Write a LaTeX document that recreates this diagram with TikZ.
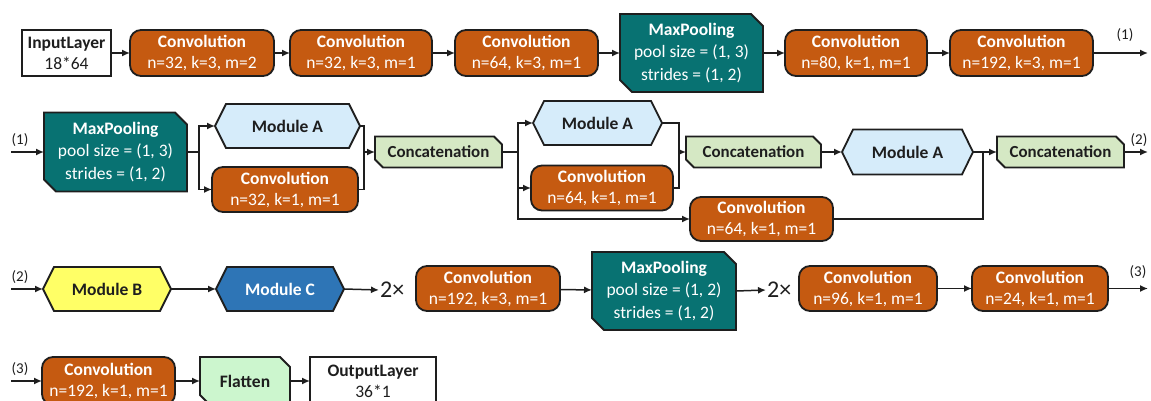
\documentclass[tikz,border=0pt]{standalone}
\usepackage{fontspec}
\setmainfont{Carlito}
\usetikzlibrary{arrows.meta,backgrounds}
\definecolor{convc}{RGB}{197,90,17}
\definecolor{poolc}{RGB}{8,114,114}
\definecolor{modA}{RGB}{214,236,250}
\definecolor{catc}{RGB}{213,232,196}
\definecolor{flatc}{RGB}{204,246,206}
\definecolor{modB}{RGB}{255,255,102}
\definecolor{modC}{RGB}{46,117,182}
\definecolor{ink}{RGB}{30,30,30}
\tikzset{
  base/.style={inner sep=0pt, outer sep=0pt, align=center, font=\fontsize{17.5}{21}\selectfont},
  sz/.style 2 args={minimum width=#1pt, minimum height=#2pt},
  conv/.style={base, draw=ink, line width=1.8pt, fill=convc, rounded corners=11pt, text=white},
  io/.style={base, draw=ink, line width=1.5pt, fill=white, text=ink},
  plain/.style={base, text=ink},
  light/.style={base, text=white},
  pool/.style={light, font=\fontsize{17.5}{22.5}\selectfont},
  cat/.style={plain, font=\fontsize{16.9}{20}\selectfont},
  shp/.style={draw=ink, line width=1.8pt, line join=miter},
  line/.style={line width=1.5pt, draw=ink},
  arr/.style={line, -{Latex[length=8pt,width=7pt]}},
  lab/.style={font=\fontsize{15}{15}\selectfont, text=ink, inner sep=0pt},
  times/.style={font=\fontsize{24}{24}\selectfont, text=ink, inner sep=1pt},
}
\newcommand\chamf[3]{%
  \begin{scope}[on background layer]
  \path[shp,#3] (#1.north west) -- ([xshift=-#2]#1.north east) -- ([yshift=-#2]#1.north east)
    -- (#1.south east) -- ([xshift=#2]#1.south west) -- ([yshift=#2]#1.south west) -- cycle;
  \end{scope}}
\newcommand\hexa[3]{%
  \begin{scope}[on background layer]
  \path[shp,#3] (#1.west) -- ([xshift=#2]#1.north west) -- ([xshift=-#2]#1.north east)
    -- (#1.east) -- ([xshift=-#2]#1.south east) -- ([xshift=#2]#1.south west) -- cycle;
  \end{scope}}
\begin{document}
\begin{tikzpicture}[x=1pt,y=-1pt]
\useasboundingbox (0,0) rectangle (1151,401);
\clip (0,0) rectangle (1151,401);

% ---------- Row 1
\node[io, sz={89}{46}] (in) at (66.5,53) {\textbf{InputLayer}\\18*64};
\node[conv, sz={144}{46}] (c1) at (202,53) {\textbf{Convolution}\\n=32, k=3, m=2};
\node[conv, sz={142}{46}] (c2) at (361,53) {\textbf{Convolution}\\n=32, k=3, m=1};
\node[conv, sz={143}{46}] (c3) at (526.5,53) {\textbf{Convolution}\\n=64, k=3, m=1};
\node[pool, sz={143}{78}] (mp1) at (691.5,53) {\textbf{MaxPooling}\\pool size = (1, 3)\\strides = (1, 2)};
\chamf{mp1}{12pt}{fill=poolc}
\node[conv, sz={142}{46}] (c4) at (856,53) {\textbf{Convolution}\\n=80, k=1, m=1};
\node[conv, sz={143}{46}] (c5) at (1021.5,53) {\textbf{Convolution}\\n=192, k=3, m=1};
\coordinate (o1) at (1148,53);
\node[lab] (l1r) at (1125,35) {(1)};
\draw[arr] (in) -- (c1);
\draw[arr] (c1) -- (c2);
\draw[arr] (c2) -- (c3);
\draw[arr] (c3) -- (mp1);
\draw[arr] (mp1) -- (c4);
\draw[arr] (c4) -- (c5);
\draw[arr] (c5) -- (o1);

% ---------- Row 2
\coordinate (i1) at (11,152);
\node[lab] (l1l) at (20,140) {(1)};
\node[pool, sz={143}{79}] (mp2) at (115.5,152) {\textbf{MaxPooling}\\pool size = (1, 3)\\strides = (1, 2)};
\chamf{mp2}{12pt}{fill=poolc}
\node[plain, sz={145}{44}] (mA1) at (287.5,126) {\textbf{Module A}};
\hexa{mA1}{11pt}{fill=modA}
\node[conv, sz={146}{45}] (cv6) at (285,189.5) {\textbf{Convolution}\\n=32, k=1, m=1};
\node[cat, sz={127}{31}] (cat1) at (438.5,152) {\textbf{Concatenation}};
\chamf{cat1}{8pt}{fill=catc}
\node[plain, sz={129}{44}] (mA2) at (597.5,123) {\textbf{Module A}};
\hexa{mA2}{11pt}{fill=modA}
\node[conv, sz={142}{45}] (cv7) at (602,188) {\textbf{Convolution}\\n=64, k=1, m=1};
\node[conv, sz={143}{44}] (cv8) at (761.5,219) {\textbf{Convolution}\\n=64, k=1, m=1};
\node[cat, sz={135}{31}] (cat2) at (753.5,152) {\textbf{Concatenation}};
\chamf{cat2}{8pt}{fill=catc}
\node[plain, sz={131}{45}] (mA3) at (907.5,152) {\textbf{Module A}};
\hexa{mA3}{11pt}{fill=modA}
\node[cat, sz={127}{31}] (cat3) at (1060.5,152) {\textbf{Concatenation}};
\chamf{cat3}{8pt}{fill=catc}
\coordinate (o2) at (1148,152);
\node[lab] (l2r) at (1139,140) {(2)};
\coordinate (s1) at (199,152);
\coordinate (m1) at (364,152);
\coordinate (s2) at (518,152);
\coordinate (m2) at (679,152);
\coordinate (m3) at (983,152);
\draw[arr] (i1) -- (mp2);
\draw[line] (mp2.east) -- (s1);
\draw[arr] (s1) |- (mA1.west);
\draw[arr] (s1) |- (cv6.west);
\draw[line] (mA1.east) -| (m1);
\draw[line] (cv6.east) -| (m1);
\draw[arr] (m1) -- (cat1.west);
\draw[line] (cat1.east) -- (s2);
\draw[arr] (s2) |- (mA2.west);
\draw[arr] (s2) |- (cv7.west);
\draw[arr] (s2) |- (cv8.west);
\draw[line] (mA2.east) -| (m2);
\draw[line] (cv7.east) -| (m2);
\draw[arr] (m2) -- (cat2.west);
\draw[arr] (cat2.east) -- (mA3.west);
\draw[line] (mA3.east) -- (m3);
\draw[line] (cv8.east) -| (m3);
\draw[arr] (m3) -- (cat3.west);
\draw[arr] (cat3.east) -- (o2);

% ---------- Row 3
\coordinate (i2) at (11,289);
\node[lab] (l2l) at (20,277) {(2)};
\node[plain, sz={128}{44}] (mB) at (107,289) {\textbf{Module B}};
\hexa{mB}{11pt}{fill=modB}
\node[light, sz={128}{44}] (mC) at (280,289) {\textbf{Module C}};
\hexa{mC}{11pt}{fill=modC}
\node[times, anchor=west] (t1) at (379,290) {2×};
\node[conv, sz={144}{45}] (cv9) at (488,288.5) {\textbf{Convolution}\\n=192, k=3, m=1};
\node[pool, sz={144}{78}] (mp3) at (664,291) {\textbf{MaxPooling}\\pool size = (1, 2)\\strides = (1, 2)};
\chamf{mp3}{12pt}{fill=poolc}
\node[times, anchor=west] (t2) at (766,290) {2×};
\node[conv, sz={138}{45}] (cv10) at (868,288.5) {\textbf{Convolution}\\n=96, k=1, m=1};
\node[conv, sz={136}{45}] (cv11) at (1040,288.5) {\textbf{Convolution}\\n=24, k=1, m=1};
\coordinate (o3) at (1148,288.5);
\node[lab] (l3r) at (1138,272) {(3)};
\draw[arr] (i2) -- (mB);
\draw[arr] (mB) -- (mC);
\draw[arr] (mC.east) -- (t1.west);
\draw[arr] (cv9) -- (mp3);
\draw[arr] (mp3.east) -- (t2.west);
\draw[arr] (cv10) -- (cv11);
\draw[arr] (cv11) -- (o3);

% ---------- Row 4
\coordinate (i3) at (11,381);
\node[lab] (l3l) at (20,369) {(3)};
\node[conv, sz={133}{48}] (cv12) at (108.5,381) {\textbf{Convolution}\\n=192, k=1, m=1};
\node[plain, sz={90}{48}] (fl) at (245,381) {\textbf{Flatten}};
\chamf{fl}{10pt}{fill=flatc}
\node[io, sz={126}{48}] (out) at (373,381) {\textbf{OutputLayer}\\36*1};
\draw[arr] (i3) -- (cv12);
\draw[arr] (cv12) -- (fl);
\draw[arr] (fl) -- (out);
\end{tikzpicture}
\end{document}
